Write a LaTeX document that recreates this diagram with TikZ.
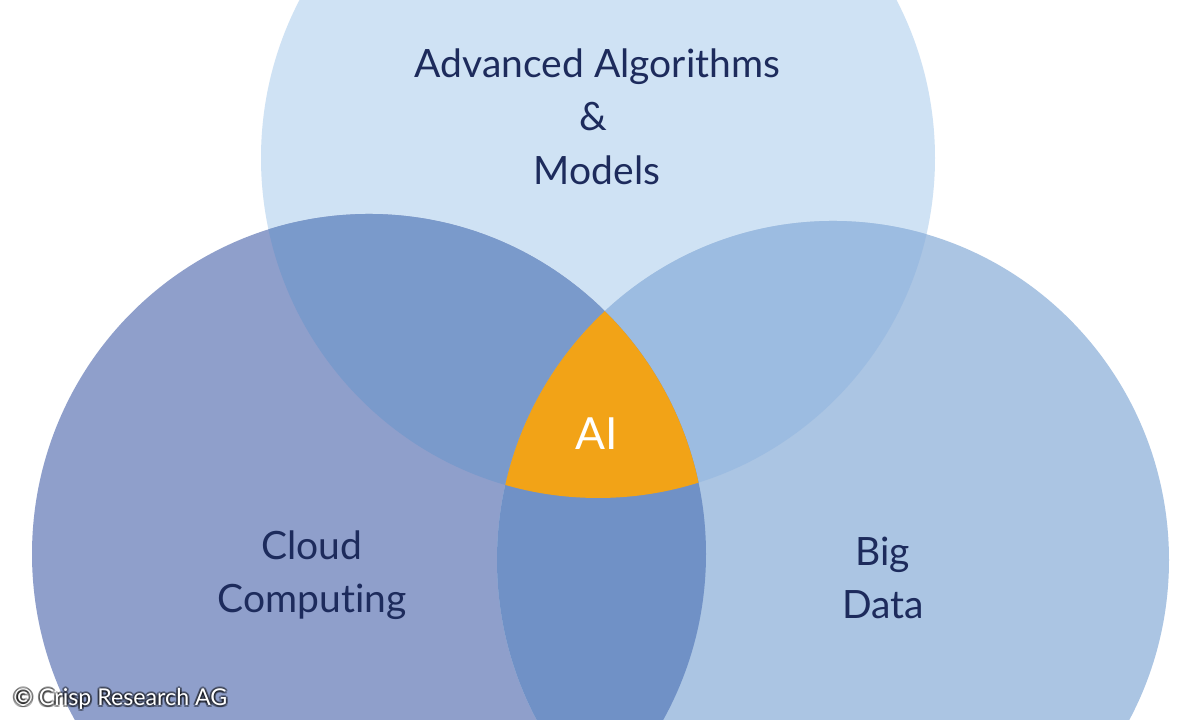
\documentclass[tikz,border=0pt]{standalone}
\usepackage{fontspec}
\setmainfont[Ligatures=NoCommon]{Lato}
\definecolor{topblue}{HTML}{CFE2F4}
\definecolor{leftblue}{HTML}{8F9FCB}
\definecolor{rightblue}{HTML}{ABC5E3}
\definecolor{topleft}{HTML}{7A9ACB}
\definecolor{topright}{HTML}{9CBCE1}
\definecolor{leftright}{HTML}{7091C6}
\definecolor{aiorange}{HTML}{F2A317}
\definecolor{navy}{HTML}{1D2B5C}
\tikzset{
  label/.style={text=navy,align=center,font=\fontsize{11.1}{15.1}\selectfont},
  credit/.style={font=\fontsize{6.6}{8}\selectfont,inner sep=0pt}
}
\newcommand{\topcircle}{(5.98,5.62) ellipse (3.37 and 3.40)}
\newcommand{\leftcircle}{(3.69,1.66) ellipse (3.37 and 3.40)}
\newcommand{\rightcircle}{(8.33,1.60) ellipse (3.36 and 3.39)}
\begin{document}
\begin{tikzpicture}
  \useasboundingbox (0,0) rectangle (12,7.2);
  \clip (0,0) rectangle (12,7.2);
  \fill[white] (0,0) rectangle (12,7.2);
  % the three circles
  \fill[topblue] \topcircle;
  \fill[leftblue] \leftcircle;
  \fill[rightblue] \rightcircle;
  % overlaps
  \begin{scope}
    \clip \topcircle;
    \fill[topleft] \leftcircle;
    \fill[topright] \rightcircle;
  \end{scope}
  \begin{scope}
    \clip \leftcircle;
    \fill[leftright] \rightcircle;
    \clip \rightcircle;
    \fill[aiorange] \topcircle;
  \end{scope}
  % labels
  \node[label] (algorithms) at (5.975,6.53) {Advanced Algorithms};
  \node[label] (amp) at (5.93,6.03) {\&};
  \node[label] (models) at (5.97,5.50) {Models};
  \node[label] (cloud) at (3.12,1.45) {Cloud\\Computing};
  \node[label] (big) at (8.83,1.42) {Big\\Data};
  \node[label,text=white,font=\fontsize{12.6}{15}\selectfont] (ai) at (5.97,2.86) {AI};
  % credit with soft shadow
  \foreach \dx/\dy in {-0.02/0,0.02/0,0/-0.02,0/0.02,0.015/0.015,-0.015/0.015,0.015/-0.015,-0.015/-0.015}
    \node[credit,anchor=west,text=black,opacity=0.3] at (0.13+\dx,0.21+\dy) {© Crisp Research AG};
  \node[credit,anchor=west,text=white] (crisp) at (0.13,0.21) {© Crisp Research AG};
\end{tikzpicture}
\end{document}
